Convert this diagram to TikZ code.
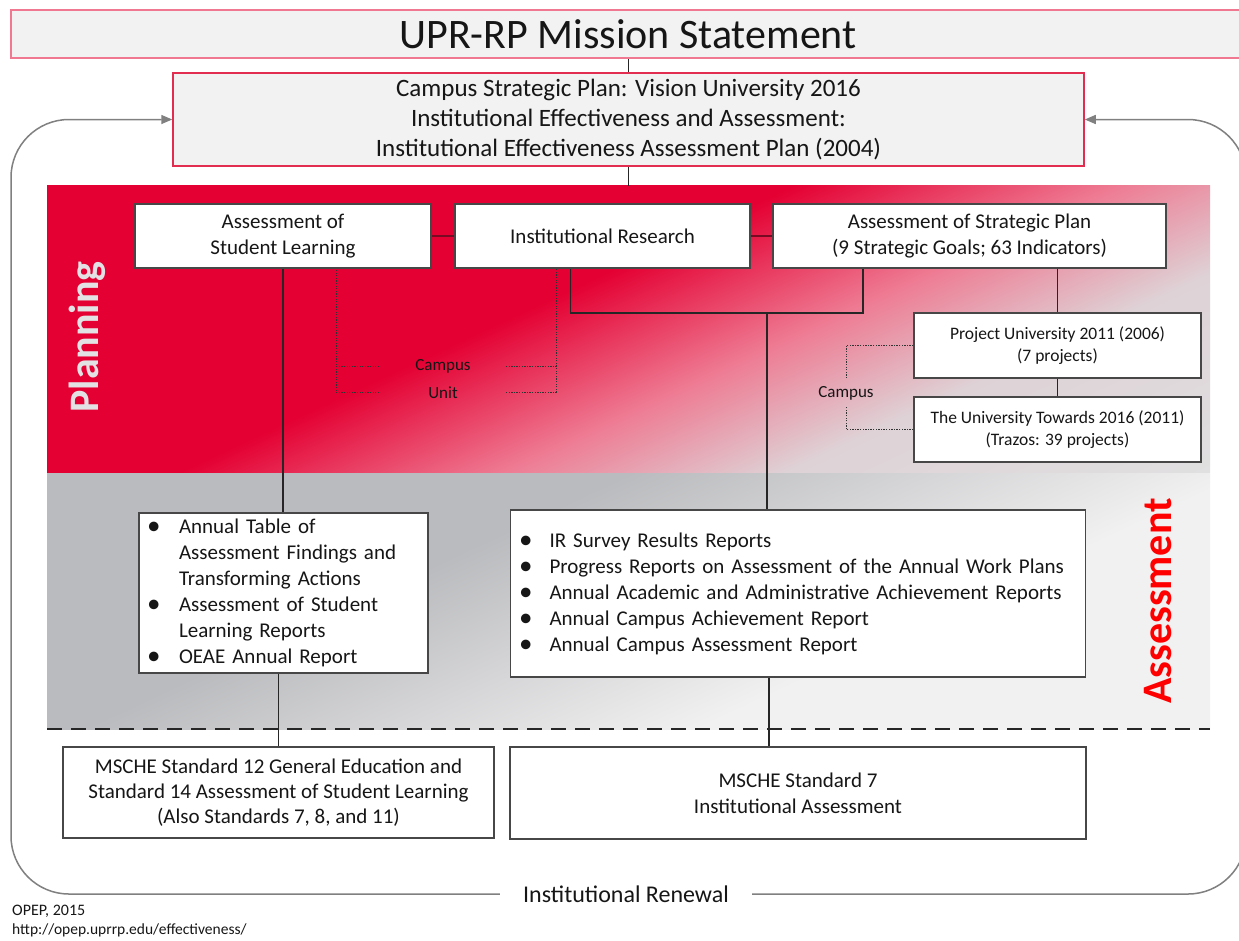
\documentclass[tikz,border=0pt]{standalone}
\usepackage{fontspec}
\setmainfont{Carlito}
\usetikzlibrary{arrows.meta,calc}
\definecolor{pred}{RGB}{228,0,50}
\definecolor{ppink}{RGB}{238,122,146}
\definecolor{pgray}{RGB}{222,210,214}
\definecolor{plight}{RGB}{224,224,225}
\definecolor{adark}{RGB}{186,187,190}
\definecolor{amid}{RGB}{214,214,216}
\definecolor{alight}{RGB}{241,241,241}
\definecolor{boxfill}{RGB}{242,242,242}
\definecolor{missionedge}{RGB}{240,120,145}
\definecolor{campusedge}{RGB}{226,45,80}
\definecolor{loopgray}{RGB}{128,128,128}
\definecolor{linkred}{RGB}{120,10,35}
\definecolor{txt}{RGB}{22,22,22}
\definecolor{plabel}{RGB}{226,226,228}
\definecolor{alabel}{RGB}{255,0,0}
\pgfdeclarehorizontalshading{planshade}{100bp}{color(0bp)=(pred); color(46bp)=(pred); color(55bp)=(ppink); color(63bp)=(pgray); color(75bp)=(plight); color(100bp)=(plight)}
\pgfdeclarehorizontalshading{assessshade}{100bp}{color(0bp)=(adark); color(42bp)=(adark); color(51bp)=(amid); color(60bp)=(alight); color(100bp)=(alight)}
\newcommand{\bul}{\raisebox{-1pt}{\fontsize{27}{27}\selectfont\textbullet}}
\begin{document}
\begin{tikzpicture}[x=1pt,y=-1pt,
  box/.style={draw=black!72, line width=1.3pt, fill=white, text=txt, align=center, inner sep=0pt, font=\fontsize{21}{26}\selectfont},
  smallbox/.style={box, font=\fontsize{17.5}{22}\selectfont},
  listbox/.style={box, align=left},
  link/.style={draw=black!85, line width=1.3pt},
  redlink/.style={draw=linkred, line width=2.6pt},
  dots/.style={draw=black!80, line width=1pt, dash pattern=on 1.3pt off 1.3pt},
  dashline/.style={draw=black!85, line width=1.8pt, dash pattern=on 15pt off 9pt},
  looppath/.style={draw=loopgray, line width=1.5pt, rounded corners=58pt, -{Triangle[length=11pt,width=9pt]}},
  lbl/.style={font=\fontsize{17}{20}\selectfont, text=txt, inner xsep=0pt, inner ysep=7pt},
  foot/.style={font=\fontsize{16}{18}\selectfont, text=txt, inner sep=0pt, anchor=west}
]
\useasboundingbox (0,0) rectangle (1239,940);
\fill[white] (0,0) rectangle (1239,940);

% Planning region
\begin{scope}
\clip (47,185) rectangle (1210,473);
\shade[shading=planshade, transform canvas={shift={(47,185)}, rotate=-65}] (0,-1300) rectangle (752.8,1300);
\end{scope}
% Assessment region
\begin{scope}
\clip (47,473) rectangle (1210,729);
\shade[shading=assessshade, transform canvas={shift={(47,473)}, rotate=-65}] (0,-1300) rectangle (724.8,1300);
\end{scope}

\coordinate (dashL) at (47,729);
\coordinate (dashR) at (1210,729);
\draw[dashline] (dashL) -- (dashR);

% Side labels
\node[font=\fontsize{42}{50}\selectfont\bfseries, text=plabel, rotate=90, anchor=base, inner sep=0pt] (planlbl) at (98,337) {Planning};
\node[font=\fontsize{42}{50}\selectfont\bfseries, text=alabel, rotate=90, anchor=base, inner sep=0pt] (asslbl) at (1171,601) {Assessment};

% Top boxes
\node[draw=missionedge, line width=2pt, fill=boxfill, text=txt, minimum width=1234, minimum height=48, inner sep=0pt, font=\fontsize{42}{50}\selectfont] (mission) at (628,34) {UPR-RP Mission Statement};
\node[draw=campusedge, line width=1.5pt, fill=boxfill, text=txt, minimum width=911, minimum height=93, inner sep=0pt, align=center, font=\fontsize{25}{30}\selectfont] (campus) at (628.5,119.5) {Campus Strategic Plan: Vision University 2016\\Institutional Effectiveness and Assessment:\\Institutional Effectiveness Assessment Plan (2004)};

% Planning boxes
\node[box, minimum width=296, minimum height=64] (asl) at (283,236) {Assessment of\\Student Learning};
\node[box, minimum width=295, minimum height=64] (ir) at (602.5,236) {Institutional Research};
\node[box, minimum width=393, minimum height=64] (asp) at (969.5,236) {Assessment of Strategic Plan\\(9 Strategic Goals; 63 Indicators)};
\node[smallbox, minimum width=287, minimum height=65] (project) at (1057.5,345.5) {Project University 2011 (2006)\\(7 projects)};
\node[smallbox, minimum width=287, minimum height=65] (towards) at (1057.5,429.5) {The University Towards 2016 (2011)\\(Trazos: 39 projects)};

\node[lbl] (campusA) at (443,366) {Campus};
\node[lbl] (unitA) at (443,393) {Unit};
\node[lbl] (campusB) at (846,393) {Campus};

% Assessment boxes
\node[listbox, minimum width=289, minimum height=160, text width=273] (asllist) at (283.5,593) {\makebox[32pt][l]{\bul}Annual Table of\\\hspace*{32pt}Assessment Findings and\\\hspace*{32pt}Transforming Actions\\\makebox[32pt][l]{\bul}Assessment of Student\\\hspace*{32pt}Learning Reports\\\makebox[32pt][l]{\bul}OEAE Annual Report};
\node[listbox, minimum width=575, minimum height=167, text width=558] (irlist) at (798,593.5) {\makebox[30.5pt][l]{\bul}IR Survey Results Reports\\\makebox[30.5pt][l]{\bul}Progress Reports on Assessment of the Annual Work Plans\\\makebox[30.5pt][l]{\bul}Annual Academic and Administrative Achievement Reports\\\makebox[30.5pt][l]{\bul}Annual Campus Achievement Report\\\makebox[30.5pt][l]{\bul}Annual Campus Assessment Report};

% MSCHE boxes
\node[box, minimum width=431, minimum height=91, font=\fontsize{21}{25}\selectfont] (mschel) at (278.5,792.5) {MSCHE Standard 12 General Education and\\Standard 14 Assessment of Student Learning\\(Also Standards 7, 8, and 11)};
\node[box, minimum width=576, minimum height=92, font=\fontsize{21}{26}\selectfont] (mscher) at (798,793) {MSCHE Standard 7\\Institutional Assessment};

% Renewal loop
\node[font=\fontsize{24}{28}\selectfont, text=txt, inner xsep=23pt, inner ysep=0pt] (renewal) at (626,894) {Institutional Renewal};
\coordinate (corBR) at (1246,894);
\coordinate (corTR) at (1246,119.5);
\coordinate (corBL) at (11,894);
\coordinate (corTL) at (11,119.5);
\draw[looppath] (renewal.east) -- (corBR) -- (corTR) -- (campus.east);
\draw[looppath] (renewal.west) -- (corBL) -- (corTL) -- (campus.west);

% Footer
\node[foot] (opep) at (12,911) {OPEP, 2015};
\node[foot, font=\fontsize{15.5}{18}\selectfont] (url) at (12,930) {http://opep.uprrp.edu/effectiveness/};

% Connectors
\coordinate (plantop) at (628.5,186);
\draw[link] (mission.south -| campus.north) -- (campus.north);
\draw[link] (campus.south) -- (plantop);
\draw[redlink] (asl.east) -- (ir.west);
\draw[redlink] (ir.east) -- (asp.west);

\draw[link] (asl.south) -- (asl.south |- asllist.north);
\draw[link] (mschel.north |- asllist.south) -- (mschel.north);

\coordinate (jn) at (767,313);
\draw[link] ([xshift=-32pt]ir.south) |- (jn) -| ([xshift=-106.5pt]asp.south);
\draw[link] (jn) -- (jn |- irlist.north);
\draw[link] ([xshift=2pt]irlist.south -| jn) -- ([xshift=2pt]mscher.north -| jn);

\draw[link] (project.north |- asp.south) -- (project.north);
\draw[link] (project.south) -- (towards.north);

% Dotted brackets
\coordinate (cL1) at (379,366);
\coordinate (cL2) at (379,392);
\coordinate (cR1) at (506,366);
\coordinate (cR2) at (506,392);
\draw[dots] (cL2) -| ([xshift=53pt]asl.south);
\draw[dots] (cL1) -- ($(cL1)+(-43,0)$);
\draw[dots] (cR2) -| ([xshift=-46.5pt]ir.south);
\draw[dots] (cR1) -- ($(cR1)+(50,0)$);
\draw[dots] (project.west) -| (campusB.north);
\draw[dots] (towards.west) -| (campusB.south);
\end{tikzpicture}
\end{document}
